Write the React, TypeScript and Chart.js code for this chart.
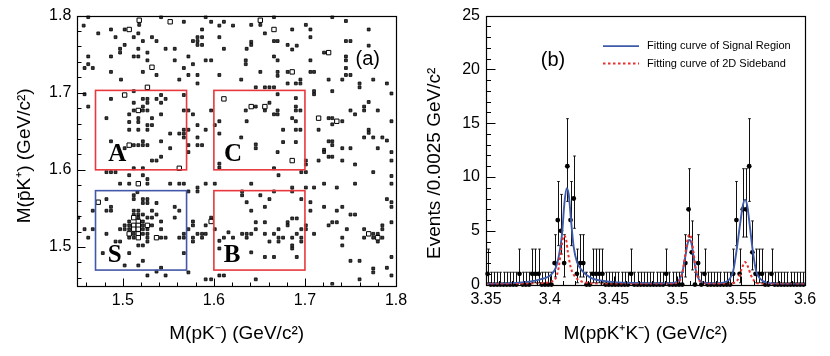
import React, { useEffect, useRef } from 'react';
import { Chart, registerables } from 'chart.js';
Chart.register(...registerables);

const SANS = "'Liberation Sans', Arial, Helvetica, sans-serif";
const SERIF = "'Liberation Serif', 'Times New Roman', serif";

// ---------------- Panel (a): 2D scatter M(pK-) vs M(pbar K+) ----------------
const leftXTicks = [1.5, 1.6, 1.7, 1.8];
const leftYTicks = [1.5, 1.6, 1.7, 1.8];

// bins holding two events (drawn as bigger open boxes)
const scatterDouble: number[][] = [
  [1.518, 1.794], [1.552, 1.792], [1.507, 1.782], [1.532, 1.733], [1.502, 1.697], [1.611, 1.692], [1.517, 1.677], [1.507, 1.632], [1.527, 1.707],
  [1.666, 1.782], [1.726, 1.752], [1.686, 1.727], [1.641, 1.682], [1.656, 1.682], [1.715, 1.667], [1.735, 1.663], [1.651, 1.794],
  [1.562, 1.602], [1.517, 1.582], [1.473, 1.558], [1.512, 1.538], [1.517, 1.533], [1.527, 1.528], [1.512, 1.528], [1.517, 1.528],
  [1.512, 1.523], [1.517, 1.523], [1.507, 1.517], [1.517, 1.517], [1.517, 1.512], [1.537, 1.512], [1.597, 1.533],
  [1.686, 1.612], [1.770, 1.517], [1.780, 1.512],
];

// bins holding one event
const scatterSingle: number[][] = [
  [1.462, 1.798], [1.518, 1.788], [1.542, 1.798], [1.567, 1.792], [1.591, 1.798], [1.597, 1.792], [1.611, 1.792], [1.606, 1.787], [1.621, 1.787], [1.457, 1.787],
  [1.487, 1.782], [1.502, 1.782], [1.587, 1.782], [1.473, 1.777], [1.517, 1.777], [1.492, 1.772], [1.512, 1.772], [1.532, 1.772], [1.537, 1.767], [1.522, 1.767],
  [1.582, 1.772], [1.587, 1.772], [1.577, 1.767], [1.582, 1.767], [1.606, 1.772], [1.502, 1.762], [1.582, 1.762], [1.587, 1.762], [1.497, 1.757], [1.497, 1.752],
  [1.517, 1.757], [1.547, 1.757], [1.557, 1.757], [1.611, 1.757], [1.462, 1.747], [1.487, 1.747], [1.512, 1.747], [1.517, 1.747], [1.527, 1.752], [1.572, 1.747],
  [1.462, 1.737], [1.527, 1.742], [1.557, 1.742], [1.591, 1.742], [1.597, 1.742], [1.458, 1.732], [1.467, 1.732], [1.567, 1.732], [1.577, 1.737], [1.487, 1.727],
  [1.522, 1.727], [1.537, 1.723], [1.572, 1.723], [1.582, 1.723], [1.606, 1.723], [1.498, 1.717], [1.562, 1.717], [1.582, 1.712],
  [1.458, 1.698], [1.512, 1.702], [1.542, 1.697], [1.567, 1.697], [1.462, 1.682], [1.487, 1.692], [1.522, 1.692], [1.527, 1.692], [1.537, 1.692], [1.547, 1.692],
  [1.542, 1.687], [1.512, 1.687], [1.527, 1.687], [1.512, 1.677], [1.522, 1.677], [1.527, 1.677], [1.522, 1.682], [1.567, 1.677], [1.572, 1.677], [1.597, 1.677],
  [1.482, 1.667], [1.507, 1.672], [1.517, 1.667], [1.517, 1.662], [1.532, 1.667], [1.542, 1.672], [1.577, 1.672], [1.507, 1.662], [1.606, 1.663], [1.527, 1.658],
  [1.532, 1.658], [1.601, 1.658], [1.507, 1.652], [1.517, 1.652], [1.527, 1.652], [1.567, 1.652], [1.572, 1.652], [1.582, 1.658], [1.591, 1.652], [1.552, 1.647],
  [1.562, 1.647], [1.567, 1.647], [1.606, 1.647], [1.567, 1.642], [1.582, 1.642], [1.487, 1.637], [1.522, 1.637], [1.542, 1.637], [1.552, 1.628], [1.502, 1.628],
  [1.512, 1.632], [1.517, 1.632], [1.522, 1.632], [1.527, 1.632], [1.572, 1.632], [1.582, 1.632], [1.587, 1.632],
  [1.666, 1.798], [1.730, 1.798], [1.651, 1.788], [1.641, 1.788], [1.656, 1.777], [1.686, 1.782], [1.701, 1.788], [1.706, 1.782], [1.745, 1.793], [1.770, 1.782],
  [1.706, 1.772], [1.745, 1.767], [1.750, 1.767], [1.770, 1.761], [1.641, 1.766], [1.641, 1.762], [1.636, 1.757], [1.666, 1.767], [1.670, 1.767], [1.681, 1.762],
  [1.691, 1.761], [1.686, 1.756], [1.721, 1.752], [1.745, 1.747], [1.745, 1.742], [1.745, 1.732], [1.635, 1.742], [1.635, 1.737], [1.666, 1.747], [1.670, 1.742],
  [1.706, 1.742], [1.651, 1.727], [1.670, 1.727], [1.670, 1.722], [1.681, 1.727], [1.706, 1.727], [1.710, 1.727], [1.745, 1.723], [1.750, 1.723], [1.741, 1.717],
  [1.726, 1.717], [1.760, 1.712], [1.760, 1.707], [1.775, 1.717], [1.790, 1.712], [1.690, 1.712], [1.695, 1.712], [1.695, 1.717], [1.681, 1.712], [1.630, 1.717],
  [1.646, 1.707], [1.656, 1.707], [1.661, 1.707], [1.666, 1.707], [1.670, 1.698], [1.690, 1.693], [1.710, 1.702], [1.710, 1.698], [1.730, 1.702], [1.770, 1.688],
  [1.635, 1.677], [1.646, 1.682], [1.656, 1.677], [1.661, 1.687], [1.666, 1.672], [1.670, 1.677], [1.670, 1.672], [1.690, 1.682], [1.690, 1.677], [1.695, 1.677],
  [1.636, 1.663], [1.686, 1.667], [1.690, 1.663], [1.726, 1.667], [1.730, 1.667], [1.730, 1.659], [1.741, 1.663], [1.750, 1.677], [1.755, 1.672], [1.765, 1.682],
  [1.765, 1.677], [1.780, 1.677], [1.795, 1.663], [1.676, 1.652], [1.690, 1.652], [1.695, 1.652], [1.715, 1.652], [1.770, 1.652], [1.770, 1.648], [1.775, 1.642],
  [1.765, 1.642], [1.785, 1.642], [1.790, 1.638], [1.630, 1.642], [1.646, 1.633], [1.646, 1.628], [1.676, 1.636], [1.690, 1.636], [1.726, 1.637], [1.730, 1.637],
  [1.730, 1.632], [1.741, 1.628], [1.750, 1.628], [1.780, 1.628], [1.795, 1.699],
  [1.532, 1.612], [1.537, 1.612], [1.542, 1.617], [1.512, 1.602], [1.522, 1.602], [1.572, 1.623], [1.482, 1.597], [1.487, 1.597], [1.492, 1.597], [1.507, 1.593],
  [1.522, 1.593], [1.527, 1.588], [1.497, 1.582], [1.507, 1.582], [1.527, 1.582], [1.552, 1.582], [1.562, 1.582], [1.567, 1.582], [1.582, 1.577], [1.582, 1.572],
  [1.591, 1.582], [1.601, 1.582], [1.606, 1.608], [1.606, 1.603], [1.572, 1.572], [1.516, 1.571], [1.512, 1.567], [1.512, 1.562], [1.522, 1.562], [1.527, 1.562],
  [1.527, 1.557], [1.482, 1.562], [1.522, 1.557], [1.537, 1.557], [1.487, 1.552], [1.487, 1.547], [1.467, 1.547], [1.482, 1.547], [1.512, 1.547], [1.517, 1.547],
  [1.532, 1.547], [1.557, 1.552], [1.557, 1.538], [1.562, 1.547], [1.537, 1.542], [1.532, 1.538], [1.542, 1.533], [1.512, 1.542], [1.517, 1.542], [1.522, 1.542],
  [1.527, 1.538], [1.517, 1.538], [1.507, 1.533], [1.522, 1.533], [1.532, 1.528], [1.502, 1.528], [1.507, 1.528], [1.522, 1.528], [1.497, 1.523], [1.502, 1.523],
  [1.507, 1.523], [1.522, 1.523], [1.527, 1.523], [1.542, 1.523], [1.512, 1.517], [1.522, 1.517], [1.527, 1.517], [1.507, 1.512], [1.512, 1.512], [1.527, 1.512],
  [1.542, 1.512], [1.547, 1.512], [1.527, 1.507], [1.497, 1.507], [1.492, 1.507], [1.517, 1.502], [1.522, 1.502], [1.482, 1.517], [1.458, 1.523], [1.467, 1.523],
  [1.462, 1.512], [1.451, 1.538], [1.478, 1.492], [1.507, 1.492], [1.567, 1.492], [1.562, 1.512], [1.567, 1.512], [1.567, 1.517], [1.577, 1.533], [1.577, 1.528],
  [1.577, 1.512], [1.577, 1.507], [1.582, 1.517], [1.587, 1.517], [1.591, 1.517], [1.587, 1.512], [1.591, 1.528], [1.597, 1.538], [1.601, 1.523], [1.572, 1.523],
  [1.502, 1.476], [1.517, 1.476], [1.522, 1.482], [1.542, 1.473], [1.537, 1.468], [1.527, 1.463], [1.547, 1.463], [1.572, 1.467], [1.591, 1.458], [1.597, 1.458],
  [1.606, 1.463], [1.611, 1.463], [1.606, 1.508], [1.611, 1.512], [1.616, 1.519], [1.621, 1.512], [1.606, 1.498],
  [1.670, 1.623], [1.666, 1.602], [1.671, 1.593], [1.696, 1.597], [1.701, 1.597], [1.701, 1.612], [1.701, 1.607], [1.721, 1.626], [1.721, 1.623], [1.726, 1.617],
  [1.730, 1.617], [1.715, 1.612], [1.741, 1.612], [1.755, 1.607], [1.775, 1.597], [1.795, 1.623], [1.795, 1.612], [1.641, 1.582], [1.666, 1.572], [1.686, 1.577],
  [1.686, 1.572], [1.701, 1.577], [1.710, 1.577], [1.721, 1.582], [1.735, 1.577], [1.755, 1.582], [1.795, 1.592], [1.795, 1.582], [1.631, 1.572], [1.631, 1.567],
  [1.651, 1.567], [1.636, 1.558], [1.661, 1.562], [1.696, 1.562], [1.641, 1.547], [1.656, 1.552], [1.706, 1.558], [1.706, 1.547], [1.721, 1.552], [1.741, 1.552],
  [1.735, 1.547], [1.750, 1.542], [1.755, 1.542], [1.795, 1.558], [1.795, 1.552], [1.790, 1.562], [1.646, 1.532], [1.656, 1.532], [1.681, 1.532], [1.681, 1.528],
  [1.686, 1.537], [1.691, 1.537], [1.730, 1.532], [1.735, 1.532], [1.726, 1.528], [1.701, 1.528], [1.701, 1.523], [1.696, 1.523], [1.785, 1.528], [1.785, 1.523],
  [1.795, 1.532], [1.631, 1.517], [1.636, 1.517], [1.636, 1.512], [1.641, 1.517], [1.646, 1.523], [1.656, 1.517], [1.666, 1.517], [1.671, 1.523], [1.671, 1.512],
  [1.671, 1.507], [1.676, 1.512], [1.686, 1.512], [1.691, 1.517], [1.696, 1.512], [1.696, 1.507], [1.661, 1.507], [1.710, 1.517], [1.746, 1.523], [1.741, 1.512],
  [1.765, 1.523], [1.765, 1.512], [1.775, 1.517], [1.775, 1.512], [1.780, 1.517], [1.780, 1.507], [1.785, 1.512], [1.686, 1.502], [1.686, 1.498], [1.641, 1.493],
  [1.656, 1.487], [1.666, 1.487], [1.691, 1.487], [1.741, 1.502], [1.795, 1.487], [1.750, 1.482], [1.760, 1.482], [1.775, 1.472], [1.775, 1.467], [1.790, 1.473],
  [1.646, 1.458], [1.730, 1.452], [1.760, 1.458], [1.795, 1.463],
];

// selection regions (signal S, sidebands A, B, C)
const regionNames = ['A', 'C', 'S', 'B'];
const regionXRanges = [[1.47, 1.57], [1.6, 1.7], [1.47, 1.57], [1.6, 1.7]];
const regionYRanges = [[1.6, 1.703], [1.6, 1.703], [1.47, 1.573], [1.47, 1.573]];
const regionLabelPos = [[1.494, 1.611], [1.621, 1.611], [1.491, 1.481], [1.620, 1.481]];
const panelTagA = { text: '(a)', x: 1.769, y: 1.743 };

// ---------------- Panel (b): M(p pbar K+ K-) ----------------
const rightXTicks = [3.35, 3.4, 3.45, 3.5, 3.55, 3.6];
const rightYTicks = [0, 5, 10, 15, 20, 25];
const histLow = 3.35;
const histBinWidth = 0.0025;
const histCounts = [
  1, 0, 0, 0, 0, 0, 0, 0, 0, 0,
  1, 0, 0, 0, 1, 1, 1, 0, 0, 0,
  0, 2, 6, 5, 2, 11, 6, 8, 1, 2,
  2, 0, 0, 1, 1, 1, 1, 0, 0, 0,
  0, 0, 0, 0, 0, 1, 0, 0, 0, 0,
  0, 0, 0, 0, 0, 0, 1, 0, 0, 0,
  0, 0, 2, 7, 3, 0, 2, 0, 1, 0,
  0, 0, 0, 0, 0, 0, 0, 1, 6, 1,
  7, 7, 11, 3, 1, 1, 1, 0, 0, 1,
  0, 0, 0, 0, 0, 0, 0, 0, 0, 0,
];
// Poisson (Garwood 68%) interval bounds, indexed by count
const poissonLow = [0, 0.173, 0.708, 1.367, 2.086, 2.840, 3.620, 4.419, 5.232, 6.057, 6.891, 7.734];
const poissonHigh = [1.148, 3.300, 4.638, 5.918, 7.163, 8.382, 9.584, 10.77, 11.95, 13.11, 14.27, 15.42];

const signalCurveX = [3.35, 3.36, 3.37, 3.38, 3.3875, 3.3953, 3.4005, 3.4045, 3.407, 3.4096, 3.4114, 3.4132, 3.4148, 3.4167, 3.4187, 3.4213, 3.4253, 3.4318, 3.4435, 3.4592, 3.4853, 3.497, 3.501, 3.5036, 3.5062, 3.508, 3.5093, 3.5109, 3.5127, 3.5145, 3.5166, 3.5192, 3.525, 3.535, 3.5412, 3.5438, 3.5464, 3.5491, 3.5512, 3.553, 3.5548, 3.5569, 3.559, 3.5616, 3.5647, 3.57, 3.58, 3.6];
const signalCurveY = [0.05, 0.08, 0.13, 0.22, 0.35, 0.57, 0.87, 1.5, 2.6, 4.7, 7.5, 8.95, 8.4, 5.9, 3.5, 2.1, 1.3, 0.65, 0.32, 0.17, 0.1, 0.15, 0.4, 1.0, 2.6, 3.8, 4.15, 3.9, 2.6, 1.3, 0.55, 0.25, 0.1, 0.15, 0.57, 1.3, 3.2, 5.6, 7.3, 7.9, 7.3, 5.3, 3.2, 1.3, 0.57, 0.17, 0.06, 0.04];
const sidebandCurveX = [3.35, 3.38, 3.395, 3.4005, 3.4045, 3.407, 3.4088, 3.4111, 3.4127, 3.4142, 3.4164, 3.419, 3.4229, 3.4295, 3.44, 3.47, 3.495, 3.501, 3.5036, 3.5062, 3.508, 3.5093, 3.511, 3.5127, 3.5145, 3.5166, 3.519, 3.525, 3.54, 3.545, 3.548, 3.5505, 3.553, 3.5555, 3.5575, 3.5605, 3.563, 3.57, 3.6];
const sidebandCurveY = [0.03, 0.06, 0.15, 0.26, 0.57, 1.6, 3.2, 4.55, 4.25, 3.0, 1.6, 0.87, 0.41, 0.17, 0.06, 0.03, 0.05, 0.25, 0.9, 2.8, 4.2, 4.65, 4.3, 2.9, 1.4, 0.5, 0.2, 0.05, 0.05, 0.2, 0.6, 1.5, 2.1, 1.6, 0.9, 0.3, 0.1, 0.04, 0.03];
const legendLabels = ['Fitting curve of Signal Region', 'Fitting curve of 2D Sideband'];
const panelTagB = { text: '(b)', x: 3.4025, y: 20.8 };

const NB = '\u00A0';

function ticksAndFrame(cfg: { xMajor: number[]; yMajor: number[]; xStep: number; yStep: number; majLen: number; minLen: number }) {
  return {
    id: 'ticksAndFrame',
    afterDraw(chart: any) {
      const { ctx, chartArea: ca, scales } = chart;
      const xs = scales.x;
      const ys = scales.y;
      const snap = (v: number) => Math.round(v) + 0.5;
      ctx.save();
      ctx.strokeStyle = '#000';
      ctx.lineWidth = 1;
      ctx.beginPath();
      const bottom = snap(ca.bottom);
      const left = snap(ca.left);
      const k0x = Math.ceil(xs.min / cfg.xStep - 1e-6), k1x = Math.floor(xs.max / cfg.xStep + 1e-6);
      for (let k = k0x; k <= k1x; k++) {
        const p = snap(xs.getPixelForValue(k * cfg.xStep));
        ctx.moveTo(p, bottom);
        ctx.lineTo(p, bottom - cfg.minLen);
      }
      for (const v of cfg.xMajor) {
        const p = snap(xs.getPixelForValue(v));
        ctx.moveTo(p, bottom);
        ctx.lineTo(p, bottom - cfg.majLen);
      }
      const k0y = Math.ceil(ys.min / cfg.yStep - 1e-6), k1y = Math.floor(ys.max / cfg.yStep + 1e-6);
      for (let k = k0y; k <= k1y; k++) {
        const p = snap(ys.getPixelForValue(k * cfg.yStep));
        ctx.moveTo(left, p);
        ctx.lineTo(left + cfg.minLen, p);
      }
      for (const v of cfg.yMajor) {
        const p = snap(ys.getPixelForValue(v));
        ctx.moveTo(left, p);
        ctx.lineTo(left + cfg.majLen, p);
      }
      ctx.stroke();
      ctx.lineWidth = 1.2;
      ctx.strokeRect(left, snap(ca.top), Math.round(ca.right) - Math.round(ca.left), Math.round(ca.bottom) - Math.round(ca.top));
      ctx.restore();
    },
  };
}

const leftDecor = {
  id: 'leftDecor',
  afterDatasetsDraw(chart: any) {
    const { ctx, scales } = chart;
    const xs = scales.x, ys = scales.y;
    ctx.save();
    ctx.lineWidth = 1.6;
    regionNames.forEach((name, i) => {
      const x0 = xs.getPixelForValue(regionXRanges[i][0]);
      const x1 = xs.getPixelForValue(regionXRanges[i][1]);
      const y0 = ys.getPixelForValue(regionYRanges[i][0]);
      const y1 = ys.getPixelForValue(regionYRanges[i][1]);
      ctx.strokeStyle = name === 'S' ? '#4358a8' : '#e8383d';
      ctx.strokeRect(x0, y1, x1 - x0, y0 - y1);
    });
    ctx.fillStyle = '#000';
    ctx.font = `bold 25px ${SERIF}`;
    ctx.textAlign = 'center';
    ctx.textBaseline = 'alphabetic';
    regionNames.forEach((name, i) => {
      ctx.fillText(name, xs.getPixelForValue(regionLabelPos[i][0]), ys.getPixelForValue(regionLabelPos[i][1]));
    });
    ctx.font = `20px ${SANS}`;
    ctx.textBaseline = 'middle';
    ctx.fillText(panelTagA.text, xs.getPixelForValue(panelTagA.x), ys.getPixelForValue(panelTagA.y));
    ctx.restore();
  },
};

const errorBars = {
  id: 'errorBars',
  beforeDatasetsDraw(chart: any) {
    const { ctx, scales } = chart;
    const xs = scales.x, ys = scales.y;
    ctx.save();
    ctx.strokeStyle = '#111';
    ctx.lineWidth = 1;
    ctx.beginPath();
    histCounts.forEach((n, i) => {
      const px = Math.round(xs.getPixelForValue(histLow + (i + 0.5) * histBinWidth)) + 0.5;
      const lo = ys.getPixelForValue(poissonLow[n]);
      const hi = ys.getPixelForValue(poissonHigh[n]);
      ctx.moveTo(px, lo);
      ctx.lineTo(px, hi);
      ctx.moveTo(px - 1.3, hi);
      ctx.lineTo(px + 1.3, hi);
      if (n > 0) {
        ctx.moveTo(px - 1.3, lo);
        ctx.lineTo(px + 1.3, lo);
      }
    });
    ctx.stroke();
    ctx.restore();
  },
};

const rightDecor = {
  id: 'rightDecor',
  afterDraw(chart: any) {
    const { ctx, chartArea: ca, scales } = chart;
    ctx.save();
    const lx0 = ca.left + 117, lx1 = ca.left + 153, tx = ca.left + 161;
    const y1 = ca.top + 30.5, y2 = ca.top + 48;
    ctx.lineWidth = 1.8;
    ctx.strokeStyle = '#3d5ba8';
    ctx.beginPath();
    ctx.moveTo(lx0, y1);
    ctx.lineTo(lx1, y1);
    ctx.stroke();
    ctx.lineWidth = 2;
    ctx.strokeStyle = '#e8312f';
    ctx.setLineDash([2.5, 2.5]);
    ctx.beginPath();
    ctx.moveTo(lx0, y2);
    ctx.lineTo(lx1, y2);
    ctx.stroke();
    ctx.setLineDash([]);
    ctx.fillStyle = '#000';
    ctx.font = `11px ${SANS}`;
    ctx.textAlign = 'left';
    ctx.textBaseline = 'middle';
    ctx.fillText(legendLabels[0], tx, y1);
    ctx.fillText(legendLabels[1], tx, y2);
    ctx.font = `20px ${SANS}`;
    ctx.textAlign = 'center';
    ctx.fillText(panelTagB.text, scales.x.getPixelForValue(panelTagB.x), scales.y.getPixelForValue(panelTagB.y));
    ctx.restore();
  },
};

function axisCommon(ticksArr: number[], fitKey: 'width' | 'height', fitVal: number, title: string, titlePad: any, tickPad: number) {
  return {
    type: 'linear' as const,
    grid: { display: false, drawTicks: false },
    border: { display: false },
    afterBuildTicks: (s: any) => {
      s.ticks = ticksArr.map((v) => ({ value: v }));
    },
    afterFit: (s: any) => {
      s[fitKey] = fitVal;
    },
    ticks: {
      autoSkip: false,
      maxRotation: 0,
      padding: tickPad,
      color: '#000',
      font: { family: SANS, size: 16 },
      callback: (v: any) => String(v),
    },
    title: {
      display: true,
      text: title,
      color: '#000',
      font: { family: SANS, size: 19 },
      padding: titlePad,
    },
  };
}

export default function App() {
  const leftRef = useRef<HTMLCanvasElement>(null);
  const rightRef = useRef<HTMLCanvasElement>(null);

  useEffect(() => {
    const left = new Chart(leftRef.current as HTMLCanvasElement, {
      type: 'scatter',
      data: {
        datasets: [
          {
            data: scatterDouble.map(([x, y]) => ({ x, y })),
            pointStyle: 'rect',
            pointRadius: 3.1,
            backgroundColor: '#fff',
            borderColor: '#000',
            borderWidth: 1,
          },
          {
            data: scatterSingle.map(([x, y]) => ({ x, y })),
            pointStyle: 'rect',
            pointRadius: 2.0,
            backgroundColor: '#3a3a3a',
            borderColor: '#000',
            borderWidth: 0.8,
          },
        ],
      },
      options: {
        animation: false,
        responsive: false,
        events: [],
        layout: { padding: { left: 0, top: 12.3, right: 19, bottom: 0 } },
        plugins: { legend: { display: false }, tooltip: { enabled: false } },
        scales: {
          x: { ...axisCommon(leftXTicks, 'height', 70.5, 'M(pK\u207B) (GeV/c\u00B2)', { top: 0, bottom: 10.6 }, 5), min: 1.45, max: 1.8 },
          y: { ...axisCommon(leftYTicks, 'width', 77.3, 'M(p\u0304K\u207A) (GeV/c\u00B2)' + NB + NB, { top: 12.9, bottom: 0 }, 6), min: 1.45, max: 1.8 },
        },
      } as any,
      plugins: [leftDecor, ticksAndFrame({ xMajor: leftXTicks, yMajor: leftYTicks, xStep: 0.02, yStep: 0.02, majLen: 8, minLen: 4 })],
    });

    const right = new Chart(rightRef.current as HTMLCanvasElement, {
      type: 'line',
      data: {
        datasets: [
          {
            data: sidebandCurveX.map((x, i) => ({ x, y: sidebandCurveY[i] })),
            borderColor: '#e8312f',
            borderWidth: 2,
            borderDash: [2.5, 2.5],
            pointRadius: 0,
            cubicInterpolationMode: 'monotone',
            fill: false,
          },
          {
            data: signalCurveX.map((x, i) => ({ x, y: signalCurveY[i] })),
            borderColor: '#3d5ba8',
            borderWidth: 1.9,
            pointRadius: 0,
            cubicInterpolationMode: 'monotone',
            fill: false,
          },
          {
            data: histCounts.map((n, i) => ({ x: histLow + (i + 0.5) * histBinWidth, y: n })),
            showLine: false,
            pointRadius: 2.4,
            pointBackgroundColor: '#000',
            pointBorderWidth: 0,
            clip: false,
          },
        ],
      },
      options: {
        animation: false,
        responsive: false,
        events: [],
        layout: { padding: { left: 0, top: 12.3, right: 25, bottom: 0 } },
        plugins: { legend: { display: false }, tooltip: { enabled: false } },
        scales: {
          x: { ...axisCommon(rightXTicks, 'height', 71.4, 'M(pp\u0304K\u207AK\u207B) (GeV/c\u00B2)', { top: 0, bottom: 10.6 }, 5), min: 3.35, max: 3.6 },
          y: { ...axisCommon(rightYTicks, 'width', 71, 'Events /0.0025 GeV/c\u00B2' + NB.repeat(5), { top: 7.9, bottom: 0 }, 6), min: 0, max: 25 },
        },
      } as any,
      plugins: [errorBars, rightDecor, ticksAndFrame({ xMajor: rightXTicks, yMajor: rightYTicks, xStep: 0.01, yStep: 1, majLen: 9, minLen: 4.5 })],
    });

    return () => {
      left.destroy();
      right.destroy();
    };
  }, []);

  return (
    <div style={{ position: 'absolute', left: 0, top: 0, width: 830, height: 356, background: '#fff' }}>
      <canvas ref={leftRef} width={415} height={356} style={{ position: 'absolute', left: 0, top: 0, width: 415, height: 356 }} />
      <canvas ref={rightRef} width={415} height={356} style={{ position: 'absolute', left: 415, top: 0, width: 415, height: 356 }} />
    </div>
  );
}
